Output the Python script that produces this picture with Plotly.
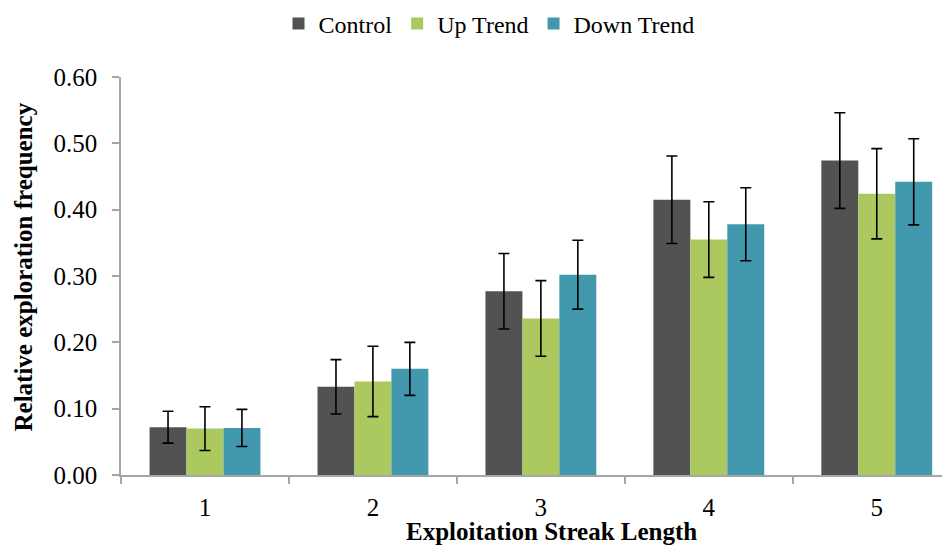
import plotly.graph_objects as go

categories = ["1", "2", "3", "4", "5"]
control = [0.072, 0.133, 0.277, 0.415, 0.474]
control_err = [0.024, 0.041, 0.057, 0.066, 0.072]
up_trend = [0.070, 0.141, 0.236, 0.355, 0.424]
up_trend_err = [0.033, 0.053, 0.057, 0.057, 0.068]
down_trend = [0.071, 0.160, 0.302, 0.378, 0.442]
down_trend_err = [0.028, 0.040, 0.052, 0.055, 0.065]
y_ticks = [0.0, 0.1, 0.2, 0.3, 0.4, 0.5, 0.6]
y_tick_labels = ["0.00", "0.10", "0.20", "0.30", "0.40", "0.50", "0.60"]
x_title = "Exploitation Streak Length"
y_title = "Relative exploration frequency"

FONT = "Liberation Serif, Times New Roman, serif"

fig = go.Figure()
series = [
    ("Control", control, control_err, "#525252"),
    ("Up Trend", up_trend, up_trend_err, "#abc95f"),
    ("Down Trend", down_trend, down_trend_err, "#4298ad"),
]
for name, vals, errs, color in series:
    fig.add_trace(go.Bar(
        name=name, x=categories, y=vals,
        marker=dict(color=color, line=dict(width=0)),
        error_y=dict(type="data", array=errs, visible=True,
                     color="black", thickness=1.6, width=5.5),
    ))

# The page body has an 8px default margin, so margins are offset by 8px.
fig.update_layout(
    width=950, height=546,
    margin=dict(l=113, r=8, t=69, b=79),
    paper_bgcolor="white", plot_bgcolor="white",
    barmode="group", bargap=0.34, bargroupgap=0,
    font=dict(family=FONT, size=24, color="black"),
    showlegend=True,
    legend=dict(orientation="h", xref="container", yref="container",
                x=481 / 950, xanchor="center", y=1 - 16 / 546, yanchor="middle",
                font=dict(family=FONT, size=24, color="black"),
                itemwidth=30, traceorder="normal", bgcolor="rgba(0,0,0,0)"),
    annotations=[
        dict(text="<b>" + x_title + "</b>", xref="paper", yref="paper",
             x=0.5199, y=-0.143, xanchor="center", yanchor="middle",
             showarrow=False, font=dict(family=FONT, size=25, color="black")),
        dict(text="<b>" + y_title + "</b>", xref="paper", yref="paper",
             x=-0.1182, y=0.5214, xanchor="center", yanchor="middle", textangle=-90,
             showarrow=False, font=dict(family=FONT, size=25, color="black")),
    ],
)
fig.update_xaxes(
    type="category", range=[-0.5, 4.436], automargin=False,
    showline=True, linecolor="#a6a6a6", linewidth=1.5,
    ticks="outside", tickson="boundaries", ticklen=7, tickcolor="#a6a6a6", tickwidth=1.5,
    showgrid=False, zeroline=False, ticklabelstandoff=9,
    tickfont=dict(family=FONT, size=25),
)
fig.update_yaxes(
    range=[0, 0.6], tickvals=y_ticks, ticktext=y_tick_labels, automargin=False,
    showline=True, linecolor="#a6a6a6", linewidth=1.5,
    ticks="outside", ticklen=7, tickcolor="#a6a6a6", tickwidth=1.5,
    showgrid=False, zeroline=False, ticklabelstandoff=10,
    tickfont=dict(family=FONT, size=25),
)

fig.write_html("out.html")
